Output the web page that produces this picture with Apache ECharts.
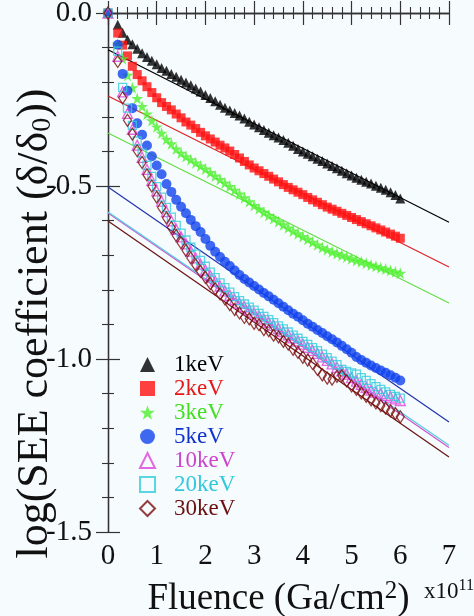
<!DOCTYPE html>
<html><head><meta charset="utf-8">
<script src="https://cdn.jsdelivr.net/npm/echarts@6/dist/echarts.min.js"></script>
<style>html,body{margin:0;padding:0;background:#f6fbfd}#c{width:474px;height:616px}</style>
</head><body><div id="c"></div>
<script>
// Fluence (x 10^11 Ga/cm^2)
const fluence = [0, 0.2, 0.3, 0.4, 0.5, 0.6, 0.7, 0.8, 0.9, 1.0,
  1.1, 1.2, 1.3, 1.4, 1.5, 1.6, 1.7, 1.8, 1.9, 2.0,
  2.1, 2.2, 2.3, 2.4, 2.5, 2.6, 2.7, 2.8, 2.9, 3.0,
  3.1, 3.2, 3.3, 3.4, 3.5, 3.6, 3.7, 3.8, 3.9, 4.0,
  4.1, 4.2, 4.3, 4.4, 4.5, 4.6, 4.7, 4.8, 4.9, 5.0,
  5.1, 5.2, 5.3, 5.4, 5.5, 5.6, 5.7, 5.8, 5.9, 6.0];

const see1keV = [0, -0.034, -0.057, -0.077, -0.090, -0.103, -0.116, -0.127, -0.138, -0.148,
  -0.159, -0.167, -0.176, -0.184, -0.193, -0.201, -0.209, -0.218, -0.227, -0.237,
  -0.246, -0.255, -0.265, -0.274, -0.282, -0.289, -0.296, -0.305, -0.314, -0.322,
  -0.330, -0.338, -0.346, -0.353, -0.360, -0.367, -0.375, -0.384, -0.393, -0.400,
  -0.407, -0.414, -0.421, -0.428, -0.435, -0.442, -0.449, -0.456, -0.463, -0.470,
  -0.476, -0.482, -0.488, -0.493, -0.499, -0.505, -0.511, -0.518, -0.526, -0.536];

const see2keV = [0, -0.058, -0.093, -0.124, -0.154, -0.178, -0.196, -0.213, -0.230, -0.245,
  -0.259, -0.270, -0.280, -0.292, -0.303, -0.315, -0.324, -0.334, -0.345, -0.355,
  -0.364, -0.373, -0.382, -0.390, -0.399, -0.409, -0.419, -0.429, -0.439, -0.448,
  -0.456, -0.464, -0.472, -0.480, -0.488, -0.496, -0.504, -0.511, -0.518, -0.525,
  -0.533, -0.540, -0.547, -0.554, -0.561, -0.567, -0.573, -0.579, -0.585, -0.591,
  -0.597, -0.603, -0.609, -0.615, -0.621, -0.627, -0.633, -0.639, -0.645, -0.651];

const see3keV = [0, -0.090, -0.132, -0.180, -0.216, -0.247, -0.270, -0.292, -0.311, -0.329,
  -0.347, -0.365, -0.378, -0.393, -0.405, -0.415, -0.424, -0.433, -0.442, -0.451,
  -0.461, -0.471, -0.481, -0.491, -0.501, -0.512, -0.523, -0.534, -0.545, -0.556,
  -0.566, -0.576, -0.585, -0.594, -0.603, -0.612, -0.621, -0.630, -0.638, -0.646,
  -0.654, -0.662, -0.670, -0.678, -0.684, -0.690, -0.695, -0.700, -0.705, -0.710,
  -0.715, -0.719, -0.723, -0.728, -0.732, -0.736, -0.740, -0.744, -0.748, -0.752];

const see5keV = [0, -0.092, -0.176, -0.225, -0.275, -0.319, -0.352, -0.383, -0.414, -0.441,
  -0.466, -0.494, -0.517, -0.540, -0.560, -0.579, -0.598, -0.616, -0.633, -0.653,
  -0.673, -0.690, -0.705, -0.719, -0.731, -0.744, -0.757, -0.769, -0.779, -0.789,
  -0.799, -0.809, -0.819, -0.829, -0.839, -0.849, -0.859, -0.869, -0.878, -0.888,
  -0.898, -0.907, -0.916, -0.925, -0.934, -0.943, -0.952, -0.962, -0.972, -0.982,
  -0.994, -1.003, -1.011, -1.019, -1.026, -1.033, -1.040, -1.047, -1.054, -1.062];

const see10keV = [0, -0.125, -0.228, -0.290, -0.336, -0.382, -0.417, -0.452, -0.484, -0.514,
  -0.544, -0.574, -0.601, -0.625, -0.647, -0.667, -0.688, -0.708, -0.726, -0.743,
  -0.759, -0.775, -0.789, -0.803, -0.816, -0.828, -0.839, -0.849, -0.858, -0.867,
  -0.876, -0.885, -0.894, -0.903, -0.912, -0.921, -0.930, -0.939, -0.948, -0.957,
  -0.966, -0.975, -0.984, -0.994, -1.004, -1.014, -1.024, -1.034, -1.044, -1.054,
  -1.064, -1.073, -1.082, -1.090, -1.096, -1.100, -1.105, -1.110, -1.115, -1.120];

const see20keV = [0, -0.110, -0.215, -0.275, -0.325, -0.370, -0.405, -0.440, -0.472, -0.502,
  -0.532, -0.562, -0.590, -0.614, -0.636, -0.656, -0.677, -0.697, -0.715, -0.732,
  -0.749, -0.765, -0.780, -0.794, -0.807, -0.820, -0.831, -0.841, -0.850, -0.859,
  -0.868, -0.877, -0.886, -0.895, -0.904, -0.913, -0.922, -0.931, -0.940, -0.949,
  -0.958, -0.967, -0.976, -0.986, -0.996, -1.006, -1.016, -1.030, -1.036, -1.040,
  -1.044, -1.054, -1.062, -1.071, -1.080, -1.088, -1.095, -1.102, -1.108, -1.113];

const see30keV = [0, -0.140, -0.245, -0.310, -0.350, -0.398, -0.432, -0.468, -0.500, -0.532,
  -0.562, -0.592, -0.620, -0.643, -0.664, -0.686, -0.708, -0.728, -0.747, -0.764,
  -0.782, -0.797, -0.812, -0.826, -0.843, -0.857, -0.867, -0.880, -0.884, -0.897,
  -0.901, -0.915, -0.918, -0.931, -0.936, -0.949, -0.957, -0.972, -0.981, -0.995,
  -1.003, -1.013, -1.030, -1.046, -1.055, -1.058, -1.050, -1.048, -1.063, -1.078,
  -1.088, -1.098, -1.108, -1.118, -1.127, -1.135, -1.142, -1.150, -1.158, -1.167];

// Linear fits, evaluated at the ends of the x range
const fitX = [0, 7];
const fit1keV = [-0.106, -0.605];
const fit2keV = [-0.240, -0.734];
const fit3keV = [-0.347, -0.838];
const fit5keV = [-0.503, -1.182];
const fit10keV = [-0.578, -1.256];
const fit20keV = [-0.575, -1.249];
const fit30keV = [-0.601, -1.283];

const seriesNames = ['1keV', '2keV', '3keV', '5keV', '10keV', '20keV', '30keV'];

const FONT = 'Liberation Serif';
const STAR = 'path://M50,0L61.2,34.5L97.6,34.5L68.2,55.9L79.4,90.5L50,69.1L20.6,90.5L31.8,55.9L2.4,34.5L38.8,34.5Z';

const styles = [
  {data: see1keV, fit: fit1keV, symbol: 'triangle', size: 10, color: '#000000', line: '#000000', text: '#000000', filled: true},
  {data: see2keV, fit: fit2keV, symbol: 'rect', size: 9, color: '#ff1010', line: '#dd2222', text: '#e81818', filled: true},
  {data: see3keV, fit: fit3keV, symbol: STAR, size: 12, color: '#4cf02c', line: '#66dd44', text: '#44dd22', filled: true},
  {data: see5keV, fit: fit5keV, symbol: 'circle', size: 10, color: '#1144ee', line: '#2233aa', text: '#1133cc', filled: true},
  {data: see10keV, fit: fit10keV, symbol: 'triangle', size: 10, color: '#dd44dd', line: '#cc55cc', text: '#cc44cc', filled: false},
  {data: see20keV, fit: fit20keV, symbol: 'rect', size: 8, color: '#33ccdd', line: '#55ccdd', text: '#33c8dd', filled: false},
  {data: see30keV, fit: fit30keV, symbol: 'diamond', size: [8, 12], color: '#7a0c0c', line: '#6b1010', text: '#6b1010', filled: false}
];

const series = [];
styles.forEach((s, k) => {
  series.push({
    type: 'line', silent: true, z: 1, symbol: 'none',
    data: fitX.map((x, i) => [x, s.fit[i]]),
    lineStyle: {color: s.line, width: 1.2}
  });
});
styles.forEach((s, k) => {
  series.push({
    name: seriesNames[k], type: 'scatter', z: 3 + k, clip: false,
    symbol: s.symbol, symbolSize: s.size,
    data: fluence.map((x, i) => [x, s.data[i]]),
    itemStyle: s.filled ? {color: s.color} : {color: 'rgba(0,0,0,0)', borderColor: s.color, borderWidth: 1.3}
  });
});

const tickCommon = {
  axisLine: {show: true, lineStyle: {color: '#333', width: 1.3}},
  axisTick: {show: true, inside: true, length: 12, lineStyle: {color: '#333', width: 1.2}},
  minorTick: {show: true, splitNumber: 5, length: 6, lineStyle: {color: '#333', width: 1.1}},
  splitLine: {show: false}
};

const chart = echarts.init(document.getElementById('c'), null, {renderer: 'canvas'});
chart.setOption({
  backgroundColor: '#f6fbfd',
  animation: false,
  textStyle: {fontFamily: FONT},
  grid: {left: 108, right: 25, top: 13, bottom: 84, outerBoundsMode: 'none', containLabel: false},
  legend: {
    orient: 'vertical', left: 134, top: 348, itemGap: 1,
    itemWidth: 15, itemHeight: 15,
    textStyle: {fontFamily: FONT, fontSize: 23, padding: [0, 0, 0, 14]},
    data: seriesNames.map((n, k) => ({name: n, textStyle: {color: styles[k].text, fontFamily: FONT, fontSize: 23}}))
  },
  xAxis: [
    Object.assign({
      type: 'value', min: 0, max: 7, interval: 1, position: 'bottom',
      axisLabel: {fontFamily: FONT, fontSize: 29, color: '#111', margin: 10},
      name: 'Fluence (Ga/cm{sup|2})', nameLocation: 'middle', nameGap: 47, nameMoveOverlap: false,
      nameTextStyle: {fontFamily: FONT, fontSize: 37, color: '#111', lineHeight: 40,
        rich: {sup: {fontFamily: FONT, fontSize: 25, color: '#111', verticalAlign: 'top', lineHeight: 40, padding: [0, 0, 14, 0]}}}
    }, tickCommon),
    Object.assign({
      type: 'value', min: 0, max: 7, interval: 1, position: 'top',
      axisLabel: {show: false}
    }, tickCommon)
  ],
  yAxis: [
    Object.assign({
      type: 'value', min: -1.5, max: 0, interval: 0.5, position: 'left',
      axisLabel: {fontFamily: FONT, fontSize: 29, color: '#111', margin: 16,
        formatter: v => v.toFixed(1)},
      name: 'log(SEE coefficient (δ/δ{sub|0}))', nameLocation: 'middle', nameGap: 51, nameRotate: 90,
      nameMoveOverlap: false,
      nameTextStyle: {fontFamily: FONT, fontSize: 44, color: '#111', padding: [0, 102, 0, 0],
        rich: {sub: {fontFamily: FONT, fontSize: 28, color: '#111', padding: [16, 0, 0, 0]}}}
    }, tickCommon),
    Object.assign({
      type: 'value', min: -1.5, max: 0, interval: 0.5, position: 'right',
      axisLabel: {show: false}
    }, tickCommon)
  ],
  graphic: [{
    type: 'text', left: 424, top: 578,
    style: {text: 'x10{s|11}', fontFamily: FONT, fontSize: 23, fill: '#111',
      rich: {s: {fontFamily: FONT, fontSize: 16, fill: '#111', verticalAlign: 'top', padding: [0, 0, 11, 0]}}}
  }],
  series: series
});
</script></body></html>
